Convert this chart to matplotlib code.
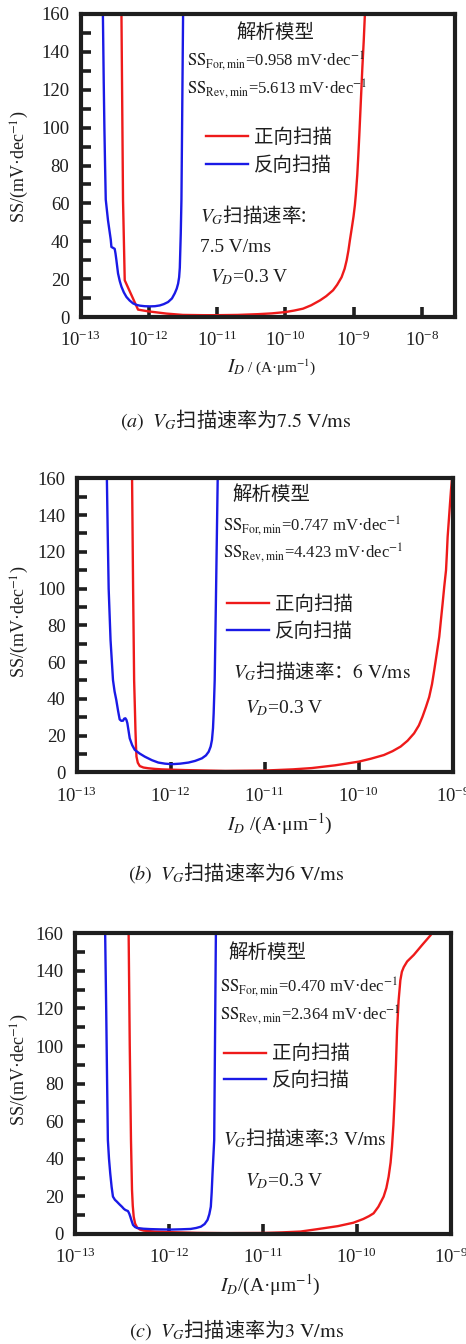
import matplotlib
matplotlib.use("Agg")
import matplotlib.pyplot as plt
from matplotlib.ticker import FixedLocator, MultipleLocator, NullLocator, LogFormatterSciNotation
import numpy as np

plt.rcParams["font.family"] = ["Liberation Serif", "Noto Sans CJK SC"]
plt.rcParams["mathtext.fontset"] = "stix"
plt.rcParams["axes.unicode_minus"] = True

RED = "#ee1a1a"
BLUE = "#1a1ae6"
INK = "#1e1e1e"
CJK = "Noto Sans CJK SC"

# ---- (a) sweep rate 7.5 V/ms : log10(I_D) and SS (mV/dec) ----
a_for_logI = [-12.40, -12.377, -12.352, -12.157, -12.01, -11.74, -11.5, -11.2, -11.0,
              -10.7, -10.4, -10.2, -10.0, -9.87, -9.74, -9.62, -9.49, -9.40, -9.30,
              -9.24, -9.175, -9.13, -9.10, -9.075, -9.053, -9.025, -9.0, -8.98, -8.965,
              -8.945, -8.93, -8.915, -8.90, -8.885, -8.87, -8.85, -8.833]
a_for_ss = [160, 61.7, 19.4, 3.9, 3.0, 1.8, 1.1, 0.96, 0.96,
            1.1, 1.5, 1.9, 2.6, 3.4, 4.4, 6.2, 8.8, 11.0, 14.1,
            17.0, 21, 25.5, 30, 35, 40.5, 47, 53, 59, 65,
            75, 85, 96, 108, 120, 132, 146, 160]
a_rev_logI = [-12.672, -12.66, -12.65, -12.64, -12.630, -12.597, -12.557, -12.547,
              -12.499, -12.487, -12.474, -12.462, -12.450, -12.425, -12.400, -12.365,
              -12.327, -12.28, -12.23, -12.18, -12.132, -12.06, -11.985, -11.91,
              -11.839, -11.78, -11.717, -11.66, -11.619, -11.59, -11.570, -11.555,
              -11.545, -11.531, -11.521, -11.497]
a_rev_ss = [160, 125, 100, 80, 62, 51, 40.9, 37,
            36, 33.5, 30, 26.5, 23, 19, 16, 13,
            10.6, 8.7, 7.2, 6.4, 6.0, 5.7, 5.61, 5.7,
            6.1, 6.8, 7.9, 9.8, 12.5, 15, 17.6, 21,
            26, 44, 62, 160]

# ---- (b) sweep rate 6 V/ms ----
b_for_logI = [-12.411, -12.40, -12.389, -12.38, -12.375, -12.369, -12.364, -12.35,
              -12.329, -12.29, -12.239, -12.17, -12.096, -11.846, -11.42, -11.0,
              -10.7, -10.5, -10.25, -10.0, -9.87, -9.732, -9.64, -9.554, -9.48,
              -9.411, -9.36, -9.321, -9.285, -9.25, -9.22, -9.196, -9.17, -9.143,
              -9.125, -9.107, -9.09, -9.071, -9.062, -9.054, -9.04, -9.029, -9.018, -8.99]
b_for_ss = [160, 100, 50, 33, 23, 14, 8.5, 5.2,
            3.4, 2.6, 2.2, 1.85, 1.6, 1.2, 0.75, 0.95,
            1.6, 2.3, 3.8, 5.8, 7.4, 9.4, 11.5, 14, 17.2,
            21.2, 25.5, 30.3, 35.5, 41, 48, 55.7, 64.5, 73.8,
            83, 92, 101, 110, 119, 128, 138, 146, 153.7, 170]
b_rev_logI = [-12.679, -12.67, -12.66, -12.64, -12.614, -12.597, -12.579, -12.56,
              -12.543, -12.525, -12.507, -12.495, -12.482, -12.471, -12.461, -12.448,
              -12.436, -12.41, -12.382, -12.33, -12.275, -12.2, -12.132, -12.06,
              -11.989, -11.9, -11.811, -11.74, -11.668, -11.625, -11.596, -11.575,
              -11.561, -11.55, -11.543, -11.532, -11.52, -11.50]
b_rev_ss = [160, 130, 100, 72, 50.2, 44, 39.4, 33.5,
            28.8, 28.0, 28.1, 29.2, 29.4, 28.5, 26.7, 22.5,
            18.5, 14.8, 12.2, 10.2, 8.5, 6.6, 5.3, 4.7,
            4.42, 4.7, 5.3, 6.2, 7.6, 9.2, 11.2, 14,
            17.6, 24, 32, 50, 90, 160]

# ---- (c) sweep rate 3 V/ms ----
c_for_logI = [-12.429, -12.417, -12.404, -12.393, -12.385, -12.375, -12.36, -12.339,
              -12.31, -12.268, -12.15, -12.0, -11.7, -11.4, -11.0, -10.8, -10.6,
              -10.43, -10.2, -10.036, -9.93, -9.87, -9.821, -9.77, -9.714, -9.685,
              -9.661, -9.64, -9.625, -9.61, -9.596, -9.583, -9.571, -9.555, -9.536,
              -9.52, -9.50, -9.464, -9.393, -9.304, -9.214, -9.18]
c_for_ss = [160, 100, 50, 23.4, 15, 9.2, 5.5, 3.5,
            2.4, 1.8, 1.3, 1.0, 0.6, 0.47, 0.55, 0.85, 1.3,
            2.5, 4.2, 6.0, 8.0, 9.5, 11, 14.5, 19.9, 24.5,
            30.5, 38, 46.5, 58, 73, 90, 108.6, 124, 135,
            139.5, 142, 145, 148.5, 153.8, 159, 162]
c_rev_logI = [-12.679, -12.668, -12.658, -12.65, -12.638, -12.625, -12.61, -12.596,
              -12.575, -12.554, -12.527, -12.5, -12.48, -12.464, -12.45, -12.436,
              -12.422, -12.411, -12.396, -12.382, -12.36, -12.339, -12.27, -12.196,
              -12.09, -11.98, -11.87, -11.768, -11.71, -11.66, -11.62, -11.589,
              -11.57, -11.554, -11.545, -11.536, -11.518, -11.50]
c_rev_ss = [160, 120, 80, 50, 40, 32.3, 25, 19.9,
            18.2, 17.2, 15.8, 14.5, 13.4, 12.8, 12.5, 12.2,
            10.8, 9.2, 6.8, 4.8, 3.7, 3.2, 2.8, 2.6,
            2.45, 2.36, 2.5, 2.7, 3.2, 3.9, 5.3, 7.5,
            10.5, 14.5, 22, 32, 50, 160]

labels = ["正向扫描", "反向扫描"]
ss_for_min = ["0.958", "0.747", "0.470"]
ss_rev_min = ["5.613", "4.423", "2.364"]
rates = ["7.5", "6", "3"]
panel_tags = ["a", "b", "c"]
decades_a = [1e-13, 1e-12, 1e-11, 1e-10, 1e-9, 1e-8]
decades_bc = [1e-13, 1e-12, 1e-11, 1e-10, 1e-9]

W, H = 466, 1344
fig = plt.figure(figsize=(W / 100, H / 100), dpi=100)


def P(x, y):
    """pixel position -> figure fraction"""
    return x / W, 1 - y / H


def make_axes(left, right, top, bottom, xmax_exp, decades):
    ax = fig.add_axes([left / W, 1 - bottom / H, (right - left) / W, (bottom - top) / H])
    ax.set_xscale("log")
    ax.set_xlim(1e-13, 10 ** xmax_exp)
    ax.set_ylim(0, 160)
    ax.xaxis.set_major_locator(FixedLocator(decades))
    ax.xaxis.set_major_formatter(LogFormatterSciNotation())
    ax.xaxis.set_minor_locator(NullLocator())
    ax.yaxis.set_major_locator(MultipleLocator(20))
    ax.yaxis.set_minor_locator(MultipleLocator(10))
    for s in ax.spines.values():
        s.set_linewidth(3.0)
        s.set_color(INK)
    ax.tick_params(axis="both", which="both", direction="in", length=7.5, width=2.6,
                   color=INK, top=False, right=False, labelcolor=INK, labelsize=13.5)
    ax.tick_params(axis="y", pad=8)
    ax.tick_params(axis="x", pad=10)
    return ax


def draw(ax, fl, fs, rl, rs):
    l1, = ax.plot(10 ** np.asarray(fl), fs, color=RED, lw=1.7, label=labels[0])
    l2, = ax.plot(10 ** np.asarray(rl), rs, color=BLUE, lw=1.7, label=labels[1])
    return [l1, l2]


def legend(ax, handles, x, yc, spacing):
    ax.legend(handles=handles, loc="center left", bbox_to_anchor=P(x, yc),
              bbox_transform=fig.transFigure, frameon=False, fontsize=14,
              handlelength=2.15, handletextpad=0.3, labelspacing=spacing,
              borderpad=0, borderaxespad=0, labelcolor=INK)


def ss_text(x, y, kind, val, size=12):
    fig.text(*P(x, y), r"$\mathrm{SS}_{\mathrm{%s,min}}$=%s mV·dec$^{-1}$" % (kind, val),
             ha="left", va="baseline", fontsize=size, color=INK)


def ylabel(x, yc):
    fig.text(*P(x, yc), r"SS/(mV·dec$^{-1}$)", rotation=90, ha="center", va="center",
             fontsize=13, color=INK)


def caption(x, y, tag, rate):
    fig.text(*P(x, y), r"$(%s)$  $V_G$扫描速率为$\mathrm{%s\ V/ms}$" % (tag, rate),
             family=CJK, ha="center", va="baseline", fontsize=14.5, color=INK)


# ================= panel (a) =================
ax = make_axes(80.5, 455, 14, 317, -7.513, decades_a)
h = draw(ax, a_for_logI, a_for_ss, a_rev_logI, a_rev_ss)
fig.text(*P(275, 33), "解析模型", ha="center", va="center", fontsize=14, color=INK)
ss_text(187, 66.5, "For", ss_for_min[0])
ss_text(187, 94.5, "Rev", ss_rev_min[0])
legend(ax, h, 206, 151.5, 0.5)
fig.text(*P(200, 222), r"$V_G$扫描速率:", family=CJK, ha="left", va="baseline",
         fontsize=14, color=INK)
fig.text(*P(200, 251.5), "%s V/ms" % rates[0], ha="left", va="baseline", fontsize=14, color=INK)
fig.text(*P(210, 282.5), r"$V_D$=0.3 V", ha="left", va="baseline", fontsize=14, color=INK)
fig.text(*P(245, 372), r"$I_D$", ha="right", va="baseline", fontsize=14, color=INK)
fig.text(*P(247, 372), r"/ (A·μm$^{-1}$)", ha="left", va="baseline", fontsize=11, color=INK)
ylabel(20, 167)
caption(236, 426.5, panel_tags[0], rates[0])

# ================= panel (b) =================
ax = make_axes(76.7, 452.7, 478.3, 772.3, -9, decades_bc)
h = draw(ax, b_for_logI, b_for_ss, b_rev_logI, b_rev_ss)
fig.text(*P(271, 495), "解析模型", ha="center", va="center", fontsize=14, color=INK)
ss_text(223, 531.5, "For", ss_for_min[1])
ss_text(223, 559, "Rev", ss_rev_min[1])
legend(ax, h, 227, 618.3, 0.42)
fig.text(*P(233, 678.3), r"$V_G$扫描速率：$\mathrm{%s\ V/ms}$" % rates[1], family=CJK,
         ha="left", va="baseline", fontsize=14, color=INK)
fig.text(*P(245, 713.3), r"$V_D$=0.3 V", ha="left", va="baseline", fontsize=14, color=INK)
fig.text(*P(280, 830.5), r"$I_D$ /(A·μm$^{-1}$)", ha="center", va="baseline",
         fontsize=14, color=INK)
ylabel(20, 621.7)
caption(236, 880, panel_tags[1], rates[1])

# ================= panel (c) =================
ax = make_axes(75, 450.7, 933.3, 1234, -9, decades_bc)
h = draw(ax, c_for_logI, c_for_ss, c_rev_logI, c_rev_ss)
fig.text(*P(267, 953), "解析模型", ha="center", va="center", fontsize=14, color=INK)
ss_text(220, 992.5, "For", ss_for_min[2])
ss_text(220, 1021, "Rev", ss_rev_min[2])
legend(ax, h, 224, 1067.5, 0.42)
fig.text(*P(223, 1145), r"$V_G$扫描速率:$\mathrm{%s\ V/ms}$" % rates[2], family=CJK,
         ha="left", va="baseline", fontsize=14, color=INK)
fig.text(*P(245, 1186), r"$V_D$=0.3 V", ha="left", va="baseline", fontsize=14, color=INK)
fig.text(*P(270, 1291.5), r"$I_D$/(A·μm$^{-1}$)", ha="center", va="baseline",
         fontsize=14, color=INK)
ylabel(20, 1070)
caption(237, 1337, panel_tags[2], rates[2])

fig.savefig("out.png", dpi=100, facecolor="white")
